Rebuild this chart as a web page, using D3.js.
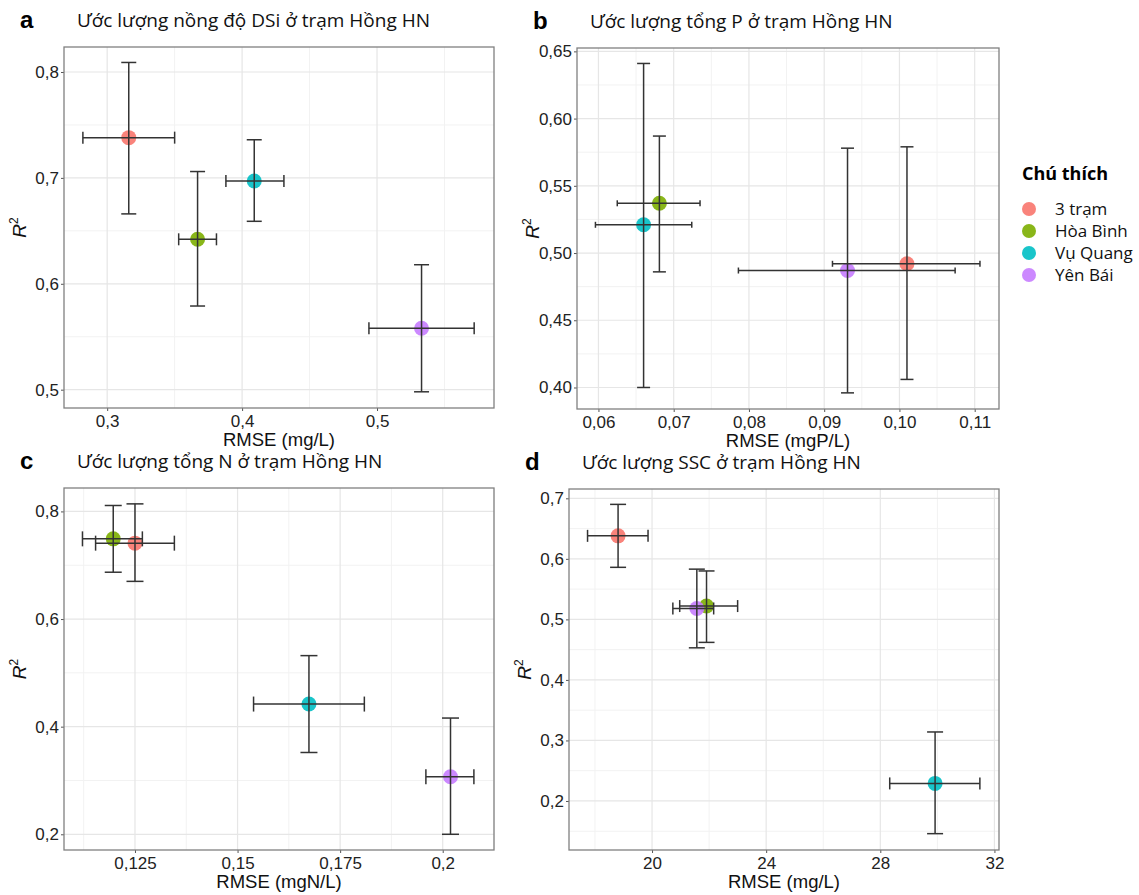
<!DOCTYPE html>
<html>
<head>
<meta charset="utf-8">
<script src="https://cdn.jsdelivr.net/npm/d3@7"></script>
<style>
  body { margin: 0; background: #fff; }
  text { font-family: "Liberation Sans", Arial, sans-serif; }
  .title { font-family: "Open Sans", "Noto Sans", sans-serif; }
</style>
</head>
<body>
<svg width="1139" height="895"></svg>
<script>
// stations (same order and colours in every panel)
const stations = ["3 trạm", "Hòa Bình", "Vụ Quang", "Yên Bái"];
const colors = ["#F8766D", "#7CAE00", "#00BFC4", "#C77CFF"];

// a - DSi
const dsiRmse   = [0.316, 0.367, 0.409, 0.533];
const dsiRmseLo = [0.282, 0.353, 0.388, 0.494];
const dsiRmseHi = [0.350, 0.381, 0.431, 0.572];
const dsiR2     = [0.738, 0.642, 0.697, 0.558];
const dsiR2Lo   = [0.666, 0.579, 0.659, 0.498];
const dsiR2Hi   = [0.809, 0.706, 0.736, 0.618];

// b - total P
const pRmse   = [0.1010, 0.0681, 0.0660, 0.0931];
const pRmseLo = [0.0911, 0.0625, 0.0596, 0.0786];
const pRmseHi = [0.1107, 0.0735, 0.0724, 0.1074];
const pR2     = [0.492, 0.537, 0.521, 0.487];
const pR2Lo   = [0.406, 0.486, 0.400, 0.396];
const pR2Hi   = [0.579, 0.587, 0.641, 0.578];

// c - total N
const nRmse   = [0.1250, 0.1197, 0.1674, 0.2019];
const nRmseLo = [0.1154, 0.1122, 0.1539, 0.1959];
const nRmseHi = [0.1346, 0.1268, 0.1809, 0.2076];
const nR2     = [0.741, 0.749, 0.442, 0.307];
const nR2Lo   = [0.670, 0.687, 0.352, 0.200];
const nR2Hi   = [0.814, 0.811, 0.532, 0.416];

// d - SSC
const sRmse   = [18.81, 21.91, 29.92, 21.57];
const sRmseLo = [17.74, 20.97, 28.33, 20.73];
const sRmseHi = [19.86, 23.00, 31.49, 22.16];
const sR2     = [0.638, 0.522, 0.229, 0.518];
const sR2Lo   = [0.586, 0.462, 0.146, 0.453];
const sR2Hi   = [0.690, 0.580, 0.314, 0.583];

// tick values + labels
const aXTicks = [0.3, 0.4, 0.5],  aXLabels = ["0,3", "0,4", "0,5"];
const aYTicks = [0.5, 0.6, 0.7, 0.8], aYLabels = ["0,5", "0,6", "0,7", "0,8"];
const bXTicks = [0.06, 0.07, 0.08, 0.09, 0.10, 0.11], bXLabels = ["0,06", "0,07", "0,08", "0,09", "0,10", "0,11"];
const bYTicks = [0.40, 0.45, 0.50, 0.55, 0.60, 0.65], bYLabels = ["0,40", "0,45", "0,50", "0,55", "0,60", "0,65"];
const cXTicks = [0.125, 0.15, 0.175, 0.2], cXLabels = ["0,125", "0,15", "0,175", "0,2"];
const cYTicks = [0.2, 0.4, 0.6, 0.8], cYLabels = ["0,2", "0,4", "0,6", "0,8"];
const dXTicks = [20, 24, 28, 32], dXLabels = ["20", "24", "28", "32"];
const dYTicks = [0.2, 0.3, 0.4, 0.5, 0.6, 0.7], dYLabels = ["0,2", "0,3", "0,4", "0,5", "0,6", "0,7"];

const panels = [
  { tag: "a", title: "Ước lượng nồng độ DSi ở trạm Hồng HN", xTitle: "RMSE (mg/L)",
    x: dsiRmse, xLo: dsiRmseLo, xHi: dsiRmseHi, y: dsiR2, yLo: dsiR2Lo, yHi: dsiR2Hi,
    xDom: [0.268, 0.5867], yDom: [0.4827, 0.8236],
    xt: aXTicks, xl: aXLabels, yt: aYTicks, yl: aYLabels,
    box: [64, 47, 494, 408], capW: 15, capH: 12 },
  { tag: "b", title: "Ước lượng tổng P ở trạm Hồng HN", xTitle: "RMSE (mgP/L)",
    x: pRmse, xLo: pRmseLo, xHi: pRmseHi, y: pR2, yLo: pR2Lo, yHi: pR2Hi,
    xDom: [0.05715, 0.11323], yDom: [0.384, 0.6525],
    xt: bXTicks, xl: bXLabels, yt: bYTicks, yl: bYLabels,
    box: [577, 48, 999, 409], capW: 13, capH: 6 },
  { tag: "c", title: "Ước lượng tổng N ở trạm Hồng HN", xTitle: "RMSE (mgN/L)",
    x: nRmse, xLo: nRmseLo, xHi: nRmseHi, y: nR2, yLo: nR2Lo, yHi: nR2Hi,
    xDom: [0.1077, 0.2125], yDom: [0.1708, 0.8435],
    xt: cXTicks, xl: cXLabels, yt: cYTicks, yl: cYLabels,
    box: [64, 488, 494, 850], capW: 17, capH: 15 },
  { tag: "d", title: "Ước lượng SSC ở trạm Hồng HN", xTitle: "RMSE (mg/L)",
    x: sRmse, xLo: sRmseLo, xHi: sRmseHi, y: sR2, yLo: sR2Lo, yHi: sR2Hi,
    xDom: [17.09, 32.16], yDom: [0.119, 0.7154],
    xt: dXTicks, xl: dXLabels, yt: dYTicks, yl: dYLabels,
    box: [569, 489, 999, 850], capW: 16, capH: 12 }
];

const svg = d3.select("svg");

panels.forEach(function (p) {
  const [x0, y0, x1, y1] = p.box;
  const x = d3.scaleLinear().domain(p.xDom).range([x0, x1]);
  const y = d3.scaleLinear().domain(p.yDom).range([y1, y0]);
  const g = svg.append("g");

  // minor grid (half way between majors)
  const xStep = p.xt[1] - p.xt[0], yStep = p.yt[1] - p.yt[0];
  const xMinor = d3.range(p.xt[0] - xStep / 2, p.xDom[1], xStep).filter(v => v > p.xDom[0]);
  const yMinor = d3.range(p.yt[0] - yStep / 2, p.yDom[1], yStep).filter(v => v > p.yDom[0]);

  g.selectAll(".gxm").data(xMinor).enter().append("line")
    .attr("x1", d => x(d)).attr("x2", d => x(d)).attr("y1", y0).attr("y2", y1)
    .attr("stroke", "#f2f2f2").attr("stroke-width", 1);
  g.selectAll(".gym").data(yMinor).enter().append("line")
    .attr("y1", d => y(d)).attr("y2", d => y(d)).attr("x1", x0).attr("x2", x1)
    .attr("stroke", "#f2f2f2").attr("stroke-width", 1);
  g.selectAll(".gx").data(p.xt).enter().append("line")
    .attr("x1", d => x(d)).attr("x2", d => x(d)).attr("y1", y0).attr("y2", y1)
    .attr("stroke", "#e6e6e6").attr("stroke-width", 1.2);
  g.selectAll(".gy").data(p.yt).enter().append("line")
    .attr("y1", d => y(d)).attr("y2", d => y(d)).attr("x1", x0).attr("x2", x1)
    .attr("stroke", "#e6e6e6").attr("stroke-width", 1.2);

  // axes
  const xAxis = g.append("g").attr("transform", "translate(0," + y1 + ")")
    .call(d3.axisBottom(x).tickValues(p.xt).tickFormat((d, i) => p.xl[i]).tickSize(3).tickPadding(4));
  const yAxis = g.append("g").attr("transform", "translate(" + x0 + ",0)")
    .call(d3.axisLeft(y).tickValues(p.yt).tickFormat((d, i) => p.yl[i]).tickSize(3).tickPadding(2));
  [xAxis, yAxis].forEach(function (ax) {
    ax.select(".domain").remove();
    ax.selectAll(".tick line").attr("stroke", "#555");
    ax.selectAll(".tick text").attr("fill", "#222").style("font-size", "17px");
  });

  // panel border
  g.append("rect").attr("x", x0).attr("y", y0).attr("width", x1 - x0).attr("height", y1 - y0)
    .attr("fill", "none").attr("stroke", "#808080").attr("stroke-width", 1.3);

  const idx = d3.range(stations.length);

  // points
  g.selectAll(".pt").data(idx).enter().append("circle")
    .attr("cx", i => x(p.x[i])).attr("cy", i => y(p.y[i])).attr("r", 7.5)
    .attr("fill", i => colors[i]).attr("fill-opacity", 0.9);

  // error bars
  const eb = g.selectAll(".eb").data(idx).enter().append("g")
    .attr("stroke", "#333").attr("stroke-width", 1.5).attr("fill", "none");
  eb.append("line").attr("x1", i => x(p.x[i])).attr("x2", i => x(p.x[i]))
    .attr("y1", i => y(p.yLo[i])).attr("y2", i => y(p.yHi[i]));
  eb.append("line").attr("x1", i => x(p.x[i]) - p.capW / 2).attr("x2", i => x(p.x[i]) + p.capW / 2)
    .attr("y1", i => y(p.yLo[i])).attr("y2", i => y(p.yLo[i]));
  eb.append("line").attr("x1", i => x(p.x[i]) - p.capW / 2).attr("x2", i => x(p.x[i]) + p.capW / 2)
    .attr("y1", i => y(p.yHi[i])).attr("y2", i => y(p.yHi[i]));
  eb.append("line").attr("x1", i => x(p.xLo[i])).attr("x2", i => x(p.xHi[i]))
    .attr("y1", i => y(p.y[i])).attr("y2", i => y(p.y[i]));
  eb.append("line").attr("x1", i => x(p.xLo[i])).attr("x2", i => x(p.xLo[i]))
    .attr("y1", i => y(p.y[i]) - p.capH / 2).attr("y2", i => y(p.y[i]) + p.capH / 2);
  eb.append("line").attr("x1", i => x(p.xHi[i])).attr("x2", i => x(p.xHi[i]))
    .attr("y1", i => y(p.y[i]) - p.capH / 2).attr("y2", i => y(p.y[i]) + p.capH / 2);

  // axis titles
  g.append("text").attr("x", (x0 + x1) / 2).attr("y", y1 + 38)
    .attr("text-anchor", "middle").style("font-size", "18.5px").attr("fill", "#111")
    .text(p.xTitle);
  const yt = g.append("text")
    .attr("transform", "translate(" + (x0 - 38) + "," + ((y0 + y1) / 2) + ") rotate(-90)")
    .attr("text-anchor", "middle").style("font-size", "19px").attr("fill", "#111");
  yt.append("tspan").style("font-style", "italic").text("R");
  yt.append("tspan").attr("dy", -8).style("font-size", "12px").text("2");

  // tag + title
  g.append("text").attr("x", x0 - 44).attr("y", y0 - 19)
    .style("font-size", "24px").style("font-weight", "bold").attr("fill", "#000")
    .text(p.tag);
  g.append("text").attr("class", "title").attr("x", x0 + 13).attr("y", y0 - 20)
    .style("font-size", "19px").attr("fill", "#111").text(p.title);
});

// legend
const lg = svg.append("g").attr("transform", "translate(1022,0)");
lg.append("text").attr("class", "title").attr("x", 0).attr("y", 180)
  .style("font-size", "18px").style("font-weight", "bold").text("Chú thích");
lg.selectAll(".li").data(stations).enter().append("circle")
  .attr("cx", 7).attr("cy", (d, i) => 209 + i * 22).attr("r", 7)
  .attr("fill", (d, i) => colors[i]).attr("fill-opacity", 0.9);
lg.selectAll(".lt").data(stations).enter().append("text")
  .attr("class", "title").attr("x", 33).attr("y", (d, i) => 215 + i * 22)
  .style("font-size", "17px").attr("fill", "#111").text(d => d);
</script>
</body>
</html>
